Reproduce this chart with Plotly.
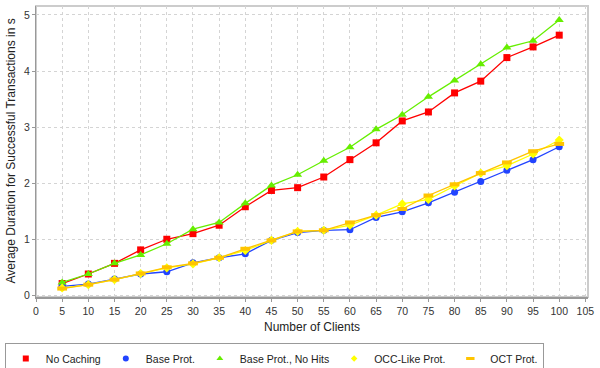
import plotly.graph_objects as go

# Data
clients = [5, 10, 15, 20, 25, 30, 35, 40, 45, 50, 55, 60, 65, 70, 75, 80, 85, 90, 95, 100]

no_caching = [0.21, 0.38, 0.57, 0.81, 1.00, 1.10, 1.25, 1.58, 1.87, 1.92, 2.11, 2.42,
              2.72, 3.11, 3.27, 3.61, 3.82, 4.24, 4.43, 4.64]
base_prot = [0.16, 0.20, 0.29, 0.38, 0.42, 0.58, 0.67, 0.74, 0.98, 1.12, 1.16, 1.17,
             1.39, 1.49, 1.65, 1.84, 2.03, 2.23, 2.42, 2.65]
base_no_hits = [0.23, 0.38, 0.57, 0.72, 0.92, 1.18, 1.30, 1.64, 1.96, 2.15, 2.40, 2.64,
                2.96, 3.22, 3.54, 3.83, 4.12, 4.42, 4.54, 4.91]
occ_like = [0.13, 0.19, 0.28, 0.39, 0.49, 0.56, 0.67, 0.80, 0.98, 1.14, 1.16, 1.25,
            1.43, 1.63, 1.71, 1.95, 2.18, 2.31, 2.52, 2.77]
oct_prot = [0.12, 0.19, 0.28, 0.39, 0.50, 0.57, 0.67, 0.83, 0.98, 1.14, 1.16, 1.30,
            1.43, 1.54, 1.78, 1.98, 2.18, 2.37, 2.57, 2.70]

x_ticks = list(range(0, 106, 5))
y_ticks = [0, 1, 2, 3, 4, 5]

FONT = "Liberation Sans"

series = [
    ("No Caching", no_caching, "#ff0000", "square", 7, 0),
    ("Base Prot.", base_prot, "#2244ff", "circle", 7, 0),
    ("Base Prot., No Hits", base_no_hits, "#66ee00", "triangle-up", 8, 0),
    ("OCC-Like Prot.", occ_like, "#ffff00", "diamond", 7, 0),
    ("OCT Prot.", oct_prot, "#ffc400", "line-ew", 7, 4),
]

fig = go.Figure()

for name, vals, color, symbol, size, lw in series:
    marker = dict(symbol=symbol, size=size, color=color)
    if symbol == "line-ew":
        marker["line"] = dict(color=color, width=lw)
    fig.add_trace(go.Scatter(
        x=clients, y=vals, mode="lines+markers", name=name,
        line=dict(color=color, width=1.3), marker=marker, showlegend=False,
    ))

# legend-only entries (markers without line segment)
for name, vals, color, symbol, size, lw in series:
    marker = dict(symbol=symbol, size=5 if symbol == "diamond" else 6, color=color)
    if symbol == "line-ew":
        marker["line"] = dict(color=color, width=3)
    fig.add_trace(go.Scatter(
        x=[None], y=[None], mode="markers", name=name, marker=marker,
    ))

axis_font = dict(family=FONT, size=10.5, color="#333333")

fig.update_xaxes(
    range=[0, 105.5], tickvals=x_ticks, ticks="outside", ticklen=3,
    tickcolor="#999999", tickfont=axis_font, automargin=False,
    showgrid=True, gridcolor="#d4d4d4", griddash="dot", gridwidth=1,
    showline=True, linecolor="#999999", linewidth=2, zeroline=False,
)
fig.update_yaxes(
    range=[-0.03, 5.16], tickvals=y_ticks, ticks="outside", ticklen=3,
    tickcolor="#999999", tickfont=axis_font, automargin=False,
    showgrid=True, gridcolor="#d4d4d4", griddash="dot", gridwidth=1,
    showline=True, linecolor="#999999", linewidth=1, zeroline=False,
)

fig.update_layout(
    width=600, height=368,
    margin=dict(l=36, r=12, t=6, b=71),
    paper_bgcolor="white", plot_bgcolor="white",
    font=dict(family=FONT, size=12, color="#222222"),
    legend=dict(
        orientation="h", xref="container", yref="container",
        x=0.008, y=1 - 343 / 368, xanchor="left", yanchor="top",
        bordercolor="#999999", borderwidth=1,
        font=dict(family=FONT, size=10.5, color="#222222"),
        itemwidth=30, tracegroupgap=0,
    ),
    shapes=[dict(type="rect", xref="paper", yref="paper", x0=0, x1=1, y0=0, y1=1,
                 line=dict(color="#cccccc", width=2), layer="below")],
    annotations=[
        dict(text="Number of Clients", xref="paper", yref="paper", x=0.5, y=-0.103,
             xanchor="center", yanchor="middle", showarrow=False,
             font=dict(family=FONT, size=12, color="#222222")),
        dict(text="Average Duration for Successful Transactions in s", xref="paper",
             yref="paper", x=-0.047, y=0.5, textangle=-90, xanchor="center",
             yanchor="middle", showarrow=False,
             font=dict(family=FONT, size=12, color="#222222")),
    ],
)

# page body has a default 8px margin; drop it so the figure sits at the window origin
fig.write_html("out.html", config={"displayModeBar": False},
               post_script="document.body.style.margin='0';")
